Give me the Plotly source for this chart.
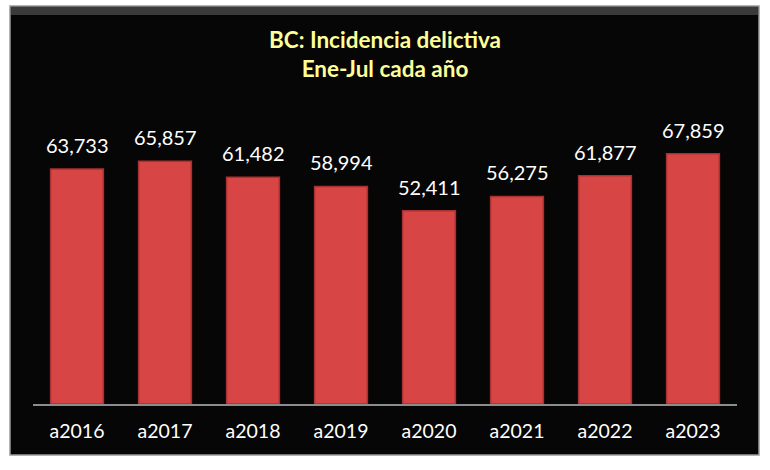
import plotly.graph_objects as go

categories = ["a2016", "a2017", "a2018", "a2019", "a2020", "a2021", "a2022", "a2023"]
values = [63733, 65857, 61482, 58994, 52411, 56275, 61877, 67859]
labels = [f"{v:,}" for v in values]

W, H = 770, 470
L, R, T, B = 33, 33, 109, 66
pw = W - L - R
ph = H - T - B

def px(x):
    return (x - L) / pw

def py(y):
    return (H - B - y) / ph

FONT = "Lato"

fig = go.Figure()
fig.add_trace(go.Bar(
    x=categories, y=values,
    marker=dict(color="#D84545", line=dict(color="#A83232", width=1.5)),
    cliponaxis=False,
))

for c, v, t in zip(categories, values, labels):
    fig.add_annotation(x=c, y=v, text=t, showarrow=False, yanchor="bottom",
                       yshift=10, font=dict(color="white", size=20, family=FONT))

fig.add_shape(type="rect", xref="paper", yref="paper",
              x0=px(10), x1=px(759), y0=py(455), y1=py(6),
              fillcolor="#060606", line=dict(color="#9a9a9a", width=1.5), layer="below")
fig.add_shape(type="rect", xref="paper", yref="paper",
              x0=px(11), x1=px(758), y0=py(15), y1=py(7),
              fillcolor="#3a3a3a", line=dict(width=0), layer="below")

fig.update_layout(
    width=W, height=H,
    margin=dict(l=L, r=R, t=T, b=B, autoexpand=False),
    paper_bgcolor="white", plot_bgcolor="rgba(0,0,0,0)",
    bargap=0.4,
    showlegend=False,
    title=dict(text="<b>BC: Incidencia delictiva<br>Ene-Jul cada año</b>",
               x=0.5, xanchor="center", y=1 - 48 / H, yanchor="middle",
               font=dict(family=FONT, size=22.5, color="#FFFF99")),
    xaxis=dict(showgrid=False, showline=True, linecolor="#8c8c8c", linewidth=1.5,
               ticks="", tickfont=dict(color="white", size=19.5, family=FONT),
               ticklabelstandoff=9,
               automargin=False, fixedrange=True),
    yaxis=dict(visible=False, range=[0, 80000], fixedrange=True, automargin=False),
)

fig.write_html("out.html", config={"displayModeBar": False},
               post_script="document.body.style.margin='0';")
